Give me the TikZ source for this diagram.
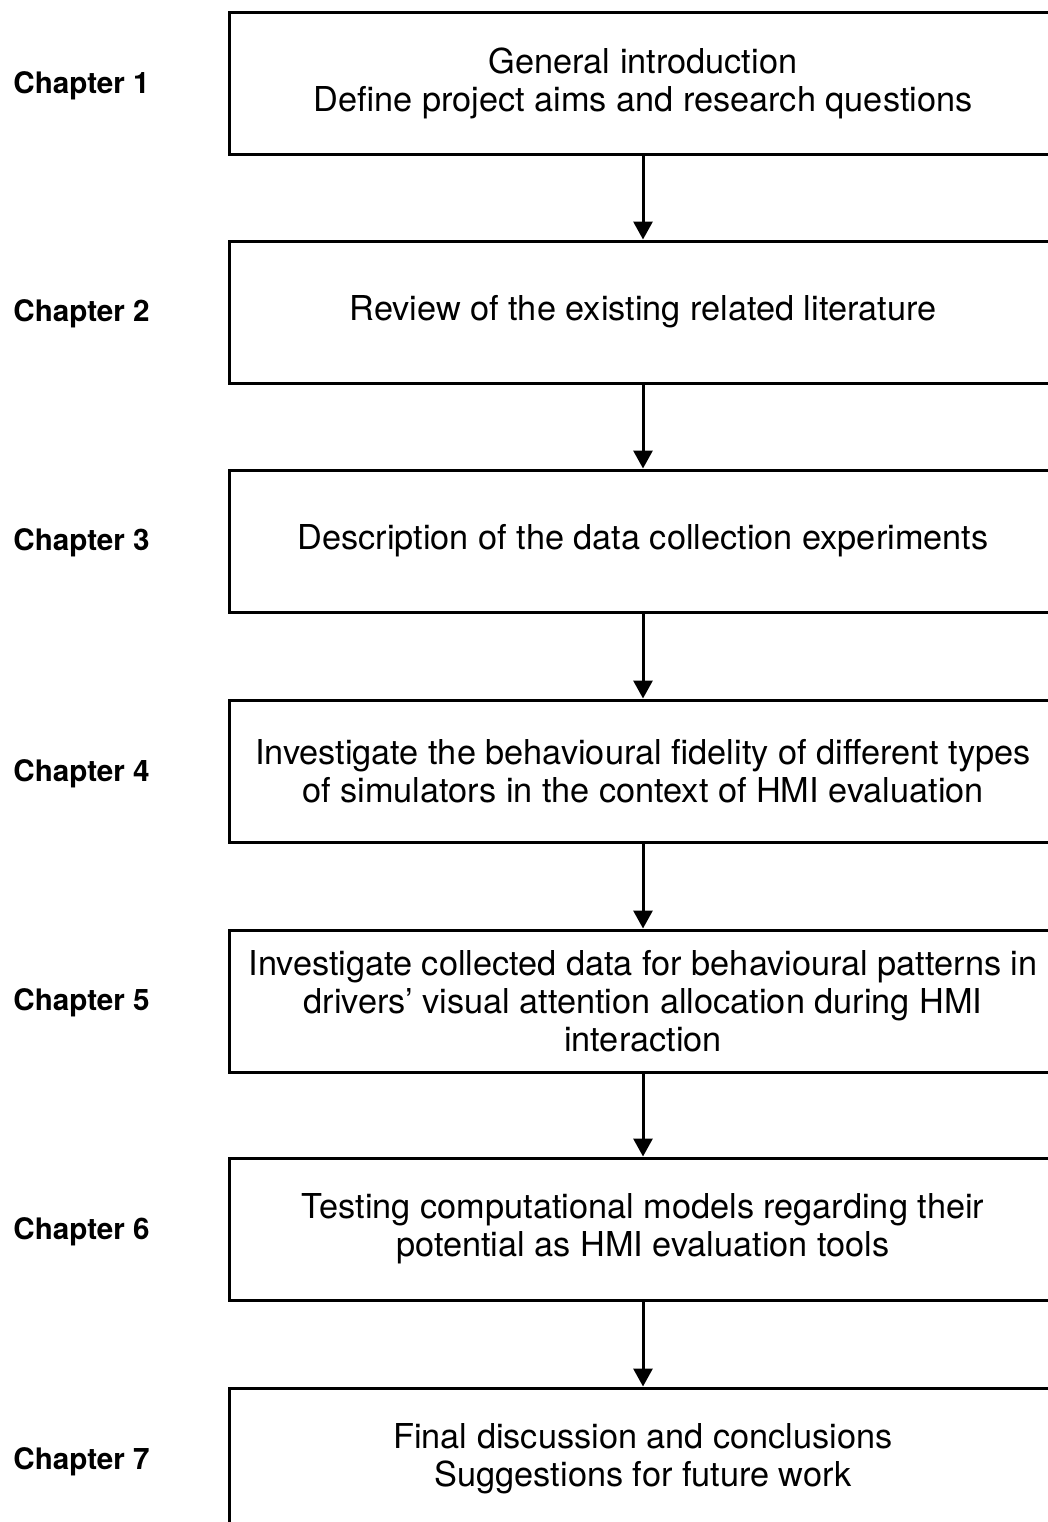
\documentclass[tikz,border=0pt]{standalone}
\usepackage{fontspec}
\setmainfont{TeX Gyre Heros}
\usetikzlibrary{arrows.meta}

\begin{document}
\begin{tikzpicture}[x=0.5pt, y=-0.5pt, >={Triangle[width=9.5pt, length=9pt]}]

  % --- 1. styles ---
  \tikzset{
    stagebox/.style={draw, line width=1.5pt, minimum width=414pt, minimum height=71pt,
      inner sep=0pt, align=center, font=\fontsize{17.15}{19}\selectfont},
    chaplabel/.style={anchor=west, inner sep=0pt, font=\fontsize{14.8}{17}\selectfont\bfseries},
    flow/.style={->, line width=1.5pt}
  }
  \useasboundingbox (0,0) rectangle (1048,1522);

  % --- 2. key positions ---
  \def\boxX{643}  % centre of the boxes
  \def\labX{13}   % left edge of the chapter labels

  % --- 3. chapter boxes ---
  \node[stagebox] (ch1) at (\boxX, 83)   {General introduction\\Define project aims and research questions};
  \node[stagebox] (ch2) at (\boxX, 312)  {Review of the existing related literature};
  \node[stagebox] (ch3) at (\boxX, 541)  {Description of the data collection experiments};
  \node[stagebox] (ch4) at (\boxX, 771)  {Investigate the behavioural fidelity of different types\\of simulators in the context of HMI evaluation};
  \node[stagebox] (ch5) at (\boxX, 1001) {Investigate collected data for behavioural patterns in\\drivers’ visual attention allocation during HMI\\interaction};
  \node[stagebox] (ch6) at (\boxX, 1229) {Testing computational models regarding their\\potential as HMI evaluation tools};
  \node[stagebox] (ch7) at (\boxX, 1459) {Final discussion and conclusions\\Suggestions for future work};

  % --- 4. chapter labels ---
  \node[chaplabel] (lab1) at (\labX, 86)   {Chapter 1};
  \node[chaplabel] (lab2) at (\labX, 314)  {Chapter 2};
  \node[chaplabel] (lab3) at (\labX, 543)  {Chapter 3};
  \node[chaplabel] (lab4) at (\labX, 774)  {Chapter 4};
  \node[chaplabel] (lab5) at (\labX, 1003) {Chapter 5};
  \node[chaplabel] (lab6) at (\labX, 1232) {Chapter 6};
  \node[chaplabel] (lab7) at (\labX, 1462) {Chapter 7};

  % --- 5. arrows between chapters ---
  \foreach \a/\b in {ch1/ch2, ch2/ch3, ch3/ch4, ch4/ch5, ch5/ch6, ch6/ch7}
    \draw[flow] (\a.south) -- (\b.north);

\end{tikzpicture}
\end{document}
